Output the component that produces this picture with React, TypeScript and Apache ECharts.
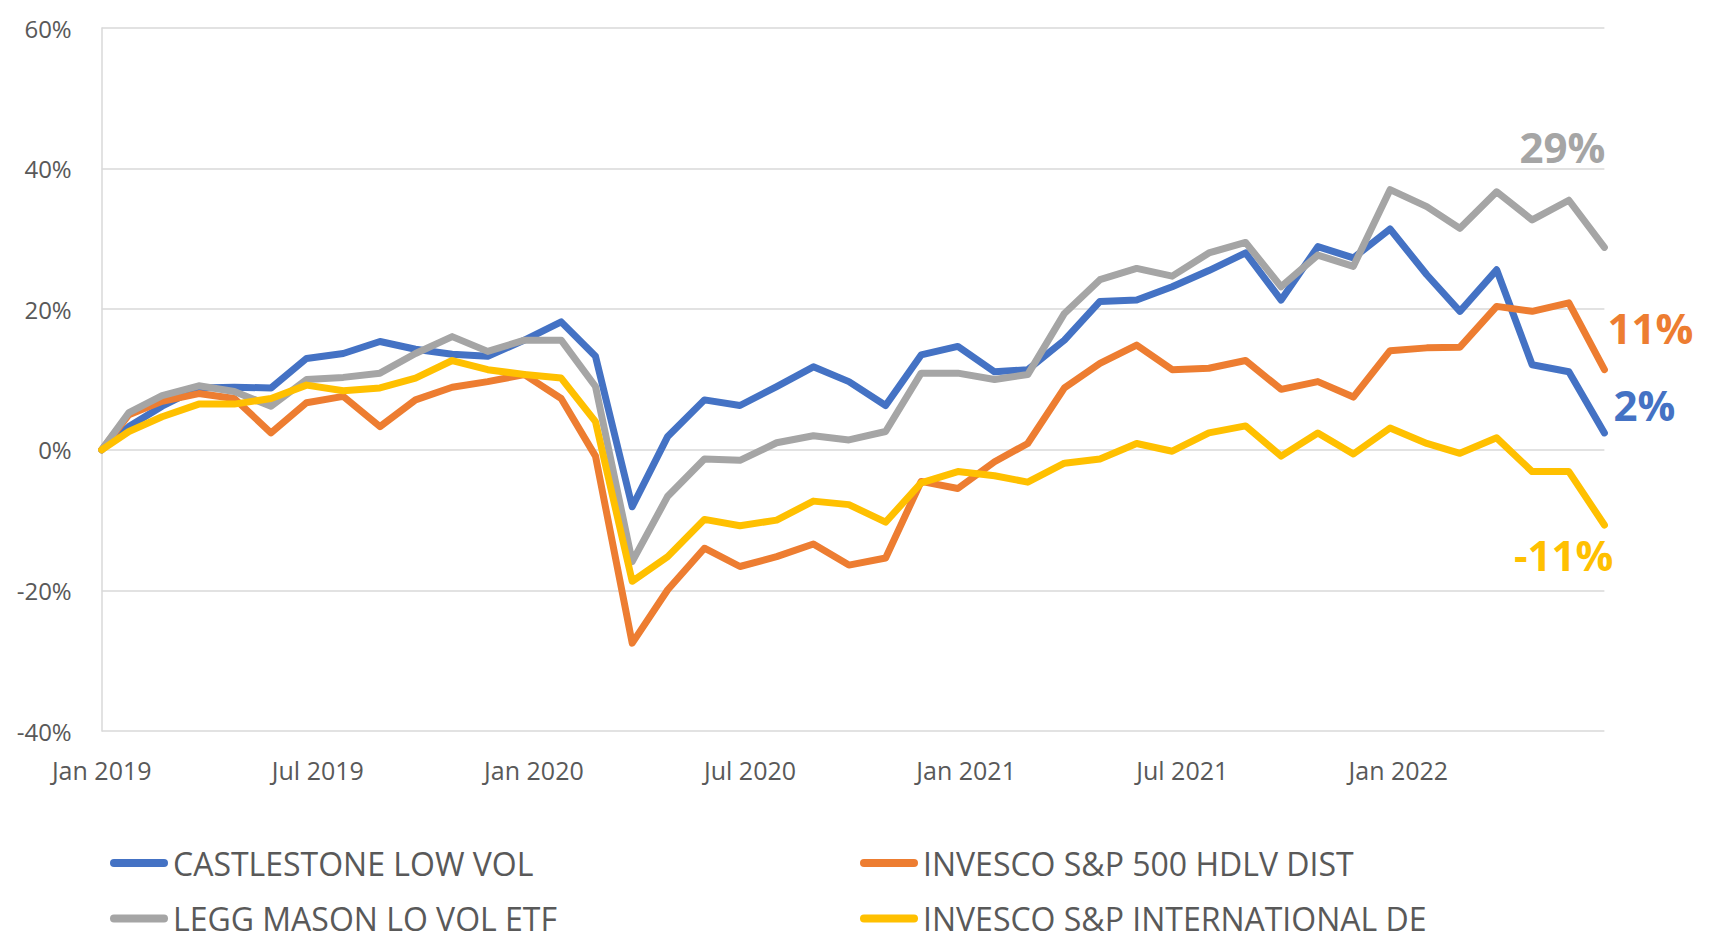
import React, { useEffect, useRef } from "react";
import * as echarts from "echarts";

const dates = [
  "2019-01-08", "2019-01-31", "2019-02-28", "2019-03-31", "2019-04-30", "2019-05-31", "2019-06-30",
  "2019-07-31", "2019-08-31", "2019-09-30", "2019-10-31", "2019-11-30", "2019-12-31",
  "2020-01-31", "2020-02-29", "2020-03-31", "2020-04-30", "2020-05-31", "2020-06-30",
  "2020-07-31", "2020-08-31", "2020-09-30", "2020-10-31", "2020-11-30", "2020-12-31",
  "2021-01-31", "2021-02-28", "2021-03-31", "2021-04-30", "2021-05-31", "2021-06-30",
  "2021-07-31", "2021-08-31", "2021-09-30", "2021-10-31", "2021-11-30", "2021-12-31",
  "2022-01-31", "2022-02-28", "2022-03-31", "2022-04-30", "2022-05-31", "2022-06-30",
];

const castlestone = [
  0, 3.3, 6.2, 8.8, 8.9, 8.8, 13.0, 13.7, 15.4, 14.3, 13.6, 13.3, 15.6,
  18.2, 13.3, -8.1, 1.9, 7.1, 6.3, 9.0, 11.8, 9.7, 6.3, 13.5, 14.7,
  11.1, 11.4, 15.6, 21.1, 21.3, 23.2, 25.5, 28.0, 21.3, 28.9, 27.3, 31.4,
  24.9, 19.7, 25.6, 12.1, 11.1, 2.4,
];

const invescoHdlv = [
  0, 5.0, 6.9, 8.0, 7.3, 2.4, 6.7, 7.6, 3.3, 7.1, 8.9, 9.7, 10.7,
  7.3, -0.9, -27.5, -19.9, -14.0, -16.6, -15.2, -13.4, -16.4, -15.4, -4.5, -5.5,
  -1.7, 0.9, 8.8, 12.3, 14.9, 11.4, 11.6, 12.7, 8.6, 9.7, 7.5, 14.1,
  14.5, 14.6, 20.4, 19.7, 20.9, 11.4,
];

const leggMason = [
  0, 5.3, 7.7, 9.1, 8.3, 6.2, 10.0, 10.3, 10.9, 13.7, 16.1, 14.0, 15.6,
  15.6, 9.0, -15.9, -6.6, -1.3, -1.5, 1.0, 2.0, 1.4, 2.6, 10.9, 10.9,
  10.0, 10.7, 19.4, 24.2, 25.8, 24.7, 28.0, 29.5, 23.2, 27.7, 26.1, 37.0,
  34.6, 31.5, 36.7, 32.7, 35.5, 28.8,
];

const invescoIntl = [
  0, 2.6, 4.7, 6.5, 6.5, 7.3, 9.2, 8.4, 8.8, 10.2, 12.7, 11.4, 10.7,
  10.2, 4.0, -18.7, -15.2, -9.9, -10.8, -10.0, -7.3, -7.8, -10.3, -4.7, -3.1,
  -3.7, -4.6, -1.9, -1.3, 0.9, -0.2, 2.4, 3.4, -0.9, 2.4, -0.6, 3.1,
  0.9, -0.5, 1.7, -3.1, -3.1, -10.7,
];

const seriesNames = [
  "CASTLESTONE LOW VOL",
  "INVESCO S&P 500 HDLV DIST",
  "LEGG MASON LO VOL ETF",
  "INVESCO S&P INTERNATIONAL DE",
];

// x tick labels every half year (182.5 days) from the first date
const tickLabels = ["Jan 2019", "Jul 2019", "Jan 2020", "Jul 2020", "Jan 2021", "Jul 2021", "Jan 2022"];
const tickStepDays = 182.5;

const yTicks = { min: -40, max: 60, interval: 20 };

const colors = ["#4472C4", "#ED7D31", "#A5A5A5", "#FFC000"];

export default function App() {
  const ref = useRef<HTMLDivElement>(null);

  useEffect(() => {
    if (!ref.current) return;
    const chart = echarts.init(ref.current, null, { renderer: "svg" });
    const font = "Open Sans";
    const pill = "path://M4,0L54,0A4,4,0,0,1,54,8L4,8A4,4,0,0,1,4,0Z";
    const t0 = echarts.time.parse(dates[0]).getTime();
    const t1 = echarts.time.parse(dates[dates.length - 1]).getTime();
    const spanDays = Math.round((t1 - t0) / 86400000);

    const values = [castlestone, invescoHdlv, leggMason, invescoIntl];
    const labelPlacement: any[] = [
      { align: "left", offset: [9, -28] },
      { align: "left", offset: [3, -42] },
      { align: "right", offset: [1, -101] },
      { align: "right", offset: [9, 29] },
    ];

    const series = values.map((vals, i) => ({
      name: seriesNames[i],
      type: "line",
      xAxisIndex: 0,
      data: dates.map((d, j) => [d, vals[j]]),
      showSymbol: false,
      symbol: "none",
      color: colors[i],
      lineStyle: { width: 7, color: colors[i], cap: "round", join: "round" },
      emphasis: { disabled: true },
      endLabel: {
        show: true,
        distance: 0,
        formatter: (p: any) => Math.round(p.value[1]) + "%",
        color: colors[i],
        fontSize: 42,
        fontWeight: "bold",
        fontFamily: font,
        verticalAlign: "middle",
        align: labelPlacement[i].align,
        offset: labelPlacement[i].offset,
      },
    }));

    const legendBase = {
      orient: "vertical",
      top: 843,
      padding: 0,
      itemWidth: 58,
      itemHeight: 8,
      itemGap: 15.6,
      icon: pill,
      textStyle: { fontSize: 32, color: "#595959", fontFamily: font, lineHeight: 40 },
    };

    chart.setOption({
      animation: false,
      textStyle: { fontFamily: font },
      grid: { left: 101.7, right: 112.6, top: 28, bottom: 214, containLabel: false },
      legend: [
        { ...legendBase, left: 110, data: [seriesNames[0], seriesNames[2]] },
        { ...legendBase, left: 860, data: [seriesNames[1], seriesNames[3]] },
      ],
      xAxis: [
        {
          type: "time",
          min: dates[0],
          max: dates[dates.length - 1],
          axisLine: { show: false },
          axisTick: { show: false },
          splitLine: { show: false },
          axisLabel: { show: false },
        },
        {
          type: "value",
          min: 0,
          max: spanDays,
          interval: tickStepDays,
          position: "bottom",
          axisLine: { show: false },
          axisTick: { show: false },
          splitLine: { show: false },
          axisLabel: {
            formatter: (v: number) => tickLabels[Math.round(v / tickStepDays)] || "",
            fontSize: 25,
            color: "#595959",
            fontFamily: font,
            margin: 26,
            showMaxLabel: false,
            hideOverlap: false,
          },
        },
      ],
      yAxis: {
        type: "value",
        min: yTicks.min,
        max: yTicks.max,
        interval: yTicks.interval,
        axisLine: { show: true, lineStyle: { color: "#D9D9D9", width: 1.5 } },
        axisTick: { show: false },
        splitLine: { show: true, lineStyle: { color: "#D9D9D9", width: 1.5 } },
        axisLabel: {
          formatter: (v: number) => v + "%",
          fontSize: 24,
          color: "#595959",
          fontFamily: font,
          margin: 30,
        },
      },
      series,
    });

    return () => chart.dispose();
  }, []);

  return (
    <div
      ref={ref}
      style={{ position: "absolute", left: 0, top: 0, width: 1717, height: 945, background: "#fff" }}
    />
  );
}
